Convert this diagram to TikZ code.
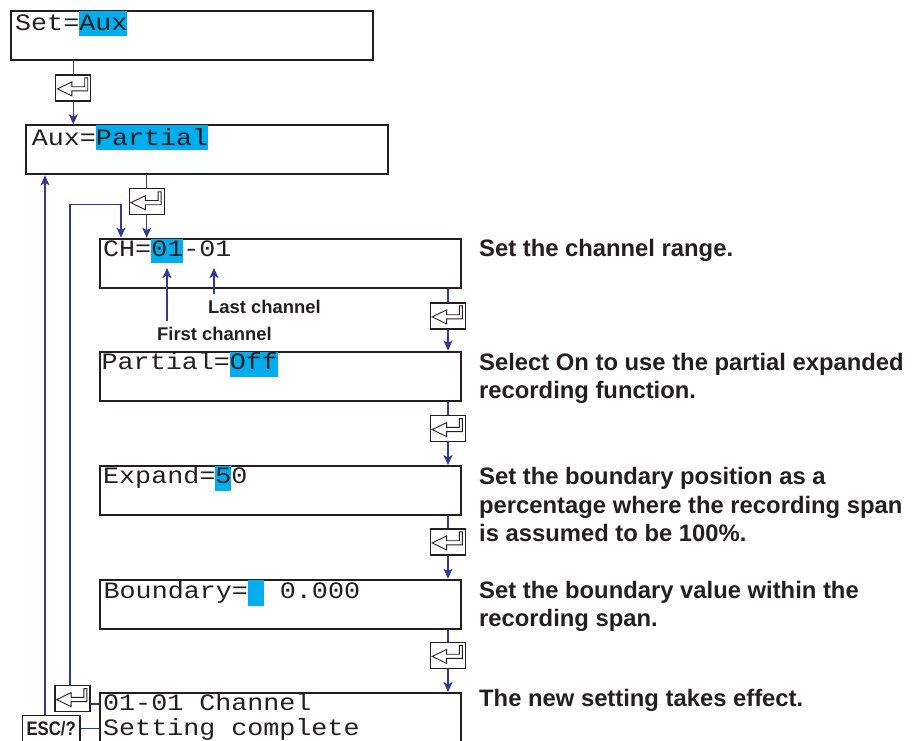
\documentclass[tikz,border=0pt]{standalone}
\usepackage{fontspec}
\usepackage{graphicx}
\setmainfont{Liberation Sans}
\newfontfamily\lcdfont{Liberation Mono}
\usetikzlibrary{arrows.meta}
\definecolor{connc}{RGB}{50,56,150}
\definecolor{ink}{RGB}{35,31,32}
\definecolor{hlc}{RGB}{0,174,239}
\newcommand\sq[1]{\scalebox{1}[0.88]{#1}}
\newcommand\hl[3]{\setbox0\hbox{\sq{#3}}\rlap{\textcolor{hlc}{\rule[-#2pt]{\wd0}{\dimexpr#1pt+#2pt\relax}}}\box0}
\newcommand\keyglyph[1]{%
  \begin{scope}[shift={(#1.north west)}]
    \draw[ink, line width=0.9pt, line join=miter] (2.3pt,-14.5pt) -- (16.7pt,-7.5pt) -- (16.7pt,-12.3pt) -- (29.5pt,-12.3pt) -- (29.5pt,-3.5pt) -- (32.5pt,-3.5pt) -- (32.5pt,-16.5pt) -- (16.7pt,-16.5pt) -- (16.7pt,-21.5pt) -- cycle;
  \end{scope}}
\begin{document}
\begin{tikzpicture}[x=1pt,y=-1pt,
  lcd/.style={draw=ink, line width=2pt, rectangle, inner sep=0pt, minimum width=361.5pt, minimum height=49pt, anchor=north west},
  lcdtext/.style={anchor=base west, inner sep=0pt, font=\lcdfont\fontsize{26.7}{30}\selectfont, text=ink},
  desc/.style={anchor=base west, inner sep=0pt, font=\bfseries\fontsize{23.8}{28}\selectfont, text=ink},
  lbl/.style={anchor=base west, inner sep=0pt, outer ysep=6pt, font=\bfseries\fontsize{18.4}{22}\selectfont, text=ink},
  link/.style={draw=connc, line width=1.4pt},
  arr/.style={link, -{Stealth[length=10pt,width=9pt,inset=2.5pt]}},
  key/.style={draw=ink, line width=1.2pt, fill=white, minimum width=35pt, minimum height=26pt, inner sep=0pt},
  esckey/.style={draw=ink, line width=1.6pt, fill=white, minimum width=57.7pt, minimum height=26pt, inner sep=0pt, text=ink, font=\bfseries\fontsize{19.5}{20}\selectfont}
]
\useasboundingbox (0,0) rectangle (913,740);
\clip (0,0) rectangle (913,740);

% LCD boxes
\node[lcd] (b1) at (10.3,10.3) {};
\node[lcd] (b2) at (25,124.3) {};
\node[lcd] (ch) at (98.7,237.7) {};
\node[lcd] (partial) at (98.7,350.5) {};
\node[lcd] (expand) at (98.7,465) {};
\node[lcd] (boundary) at (98.7,578.7) {};
\node[lcd, minimum height=60pt] (last) at (98.7,692) {};

% LCD texts
\node[lcdtext] (t1) at (15,30) {\sq{Set=}\hl{18.7}{6}{Aux}};
\node[lcdtext] (t2) at (31.7,145.7) {\sq{Aux=}\hl{20.4}{4.3}{Partial}};
\node[lcdtext] (t3) at (103,256) {\sq{CH=}\hl{17.3}{7.4}{01}\sq{-01}};
\node[lcdtext] (t4) at (101.5,369.3) {\sq{Partial=}\hl{17.8}{7.4}{Off}};
\node[lcdtext] (t5) at (103,483.3) {\sq{Expand=}\hl{17.3}{7.4}{5}\sq{0}};
\node[lcdtext] (t6) at (103.5,598.3) {\sq{Boundary=}\hl{18.6}{7.4}{\phantom{0}}\phantom{0}\sq{0.000}};
\node[lcdtext] (t7) at (103,710) {\sq{01-01 Channel}};
\node[lcdtext] (t8) at (103,735) {\sq{Setting complete}};

% enter keys
\node[key] (k1) at (73.3,88) {};
\node[key] (k2) at (146.7,201.8) {};
\node[key] (kr1) at (448,316) {};
\node[key] (kr2) at (448,428.7) {};
\node[key] (kr3) at (448,542) {};
\node[key] (kr4) at (448,655.5) {};
\node[key] (kL) at (72.5,698.7) {};
\foreach \k in {k1,k2,kr1,kr2,kr3,kr4,kL} {\keyglyph{\k}}
\node[esckey] (esc) at (51.2,728.5) {\scalebox{0.86}[1]{ESC/?}};

% main flow
\draw[link] (b1.south -| k1) -- (k1.north);
\draw[arr] (k1.south) -- (b2.north -| k1);
\draw[link] (b2.south -| k2) -- (k2.north);
\draw[arr] (k2.south) -- (ch.north -| k2);
\draw[link] (ch.south -| kr1) -- (kr1.north);
\draw[arr] (kr1.south) -- (partial.north -| kr1);
\draw[link] (partial.south -| kr2) -- (kr2.north);
\draw[arr] (kr2.south) -- (expand.north -| kr2);
\draw[link] (expand.south -| kr3) -- (kr3.north);
\draw[arr] (kr3.south) -- (boundary.north -| kr3);
\draw[link] (boundary.south -| kr4) -- (kr4.north);
\draw[arr] (kr4.south) -- (last.north -| kr4);

% return loops
\coordinate (lpA) at (70,204.3);
\coordinate (lpB) at (121,204.3);
\draw[arr] (kL.north -| lpA) -- (lpA) -- (lpB) -- (ch.north -| lpB);
\coordinate (outerx) at (45,400);
\draw[arr] (esc.north -| outerx) -- (b2.south -| outerx);
\draw[link] ([yshift=-5.3pt]kL.east) -- ([yshift=-5.3pt]kL.east -| last.west);
\draw[link] (esc.east) -- (esc.east -| last.west);

% channel labels
\node[lbl] (lastc) at (208,313.3) {Last channel};
\node[lbl] (firstc) at (157,340.7) {First channel};
\coordinate (tipF) at (167,268);
\coordinate (tipL) at (214,268);
\draw[arr] (firstc.north -| tipF) -- (tipF);
\draw[arr] (lastc.north -| tipL) -- (tipL);

% descriptions
\node[desc] (d1) at (479,256.7) {Set the channel range.};
\node[desc] (d2a) at (479,370) {Select On to use the partial expanded};
\node[desc] (d2b) at (479,398.3) {recording function.};
\node[desc] (d3a) at (479,484.3) {Set the boundary position as a};
\node[desc] (d3b) at (479,513.3) {percentage where the recording span};
\node[desc] (d3c) at (479,541.7) {is assumed to be 100\%.};
\node[desc] (d4a) at (479,598.3) {Set the boundary value within the};
\node[desc] (d4b) at (479,626.7) {recording span.};
\node[desc] (d5) at (479,706.7) {The new setting takes effect.};
\end{tikzpicture}
\end{document}
